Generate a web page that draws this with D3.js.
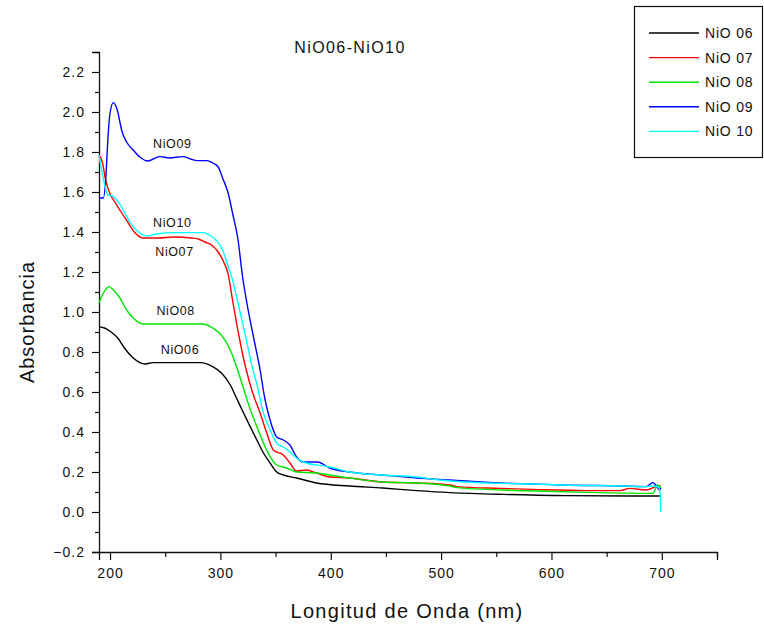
<!DOCTYPE html>
<html>
<head>
<meta charset="utf-8">
<script src="https://cdn.jsdelivr.net/npm/d3@7"></script>
<style>
  body { margin: 0; background: #fff; }
  text { font-family: "Liberation Sans", Arial, sans-serif; fill: #111; }
</style>
</head>
<body>
<script>
// series names + colours
var seriesNames = ["NiO 06", "NiO 07", "NiO 08", "NiO 09", "NiO 10"];
var seriesColors = ["#000000", "#ff0000", "#00e600", "#0000ff", "#00ffff"];

// [wavelength nm, absorbance]
var nio06 = [[190,0.927],[195,0.92],[201,0.90],[207,0.87],[213,0.82],[221,0.77],[232,0.74],[239,0.747],[257,0.747],[282,0.747],[293,0.727],[301,0.695],[309,0.635],[315,0.565],[321,0.495],[327,0.427],[333,0.36],[339,0.295],[345,0.245],[351,0.20],[357,0.185],[369,0.17],[387,0.145],[417,0.13],[447,0.12],[478,0.107],[508,0.097],[556,0.088],[614,0.082],[695,0.08],[699,0.08]];
var nio07 = [[190,1.785],[193,1.75],[196,1.66],[200,1.59],[205,1.545],[210,1.50],[216,1.45],[222,1.40],[230,1.37],[244,1.37],[258,1.375],[274,1.37],[280,1.365],[286,1.35],[292,1.335],[298,1.30],[303,1.25],[307,1.19],[311,1.06],[317,0.875],[323,0.72],[329,0.60],[336,0.495],[342,0.395],[348,0.31],[357,0.285],[363,0.245],[369,0.205],[378,0.21],[387,0.195],[399,0.175],[417,0.17],[447,0.15],[478,0.145],[508,0.135],[514,0.127],[553,0.118],[583,0.113],[632,0.107],[662,0.107],[671,0.118],[686,0.11],[695,0.127],[699,0.13]];
var nio08 = [[190,1.045],[194,1.095],[199,1.127],[203,1.11],[209,1.07],[215,1.01],[221,0.97],[230,0.94],[248,0.94],[266,0.94],[284,0.94],[293,0.92],[302,0.877],[309,0.81],[315,0.72],[320,0.635],[326,0.53],[333,0.427],[339,0.345],[345,0.277],[351,0.235],[360,0.22],[369,0.20],[387,0.195],[399,0.185],[417,0.17],[447,0.15],[478,0.145],[508,0.13],[514,0.122],[556,0.11],[587,0.105],[632,0.098],[692,0.093],[696,0.135],[699,0.12]];
var nio09 = [[190,1.57],[194,1.57],[196.5,1.70],[198,1.86],[200,1.995],[203,2.047],[206,2.02],[211,1.90],[215,1.85],[221,1.81],[227,1.775],[234,1.755],[245,1.777],[254,1.77],[266,1.777],[273,1.765],[279,1.757],[288,1.757],[293,1.745],[298,1.725],[302,1.67],[307,1.595],[311,1.495],[316,1.36],[320,1.18],[324,1.045],[330,0.875],[336,0.71],[340,0.575],[345,0.46],[351,0.375],[357,0.36],[363,0.335],[369,0.275],[375,0.25],[388,0.25],[399,0.22],[417,0.20],[447,0.185],[478,0.17],[508,0.16],[553,0.145],[583,0.14],[610,0.135],[665,0.13],[686,0.127],[692,0.147],[695,0.13],[698,0.11],[699,0.12]];
var nio10 = [[190,1.785],[192,1.72],[195,1.64],[198,1.585],[202,1.58],[206,1.56],[211,1.52],[215,1.477],[221,1.427],[227,1.395],[234,1.38],[242,1.39],[257,1.397],[272,1.397],[284,1.397],[290,1.385],[296,1.36],[302,1.31],[307,1.227],[310,1.18],[316,1.045],[323,0.875],[329,0.72],[333,0.64],[339,0.495],[345,0.41],[351,0.345],[357,0.325],[363,0.30],[369,0.27],[375,0.25],[399,0.225],[417,0.20],[447,0.185],[478,0.175],[499,0.16],[553,0.143],[583,0.14],[610,0.135],[665,0.13],[686,0.127],[692,0.13],[697,0.125],[698.5,0.09],[699,0.0]];
var allSeries = [nio06, nio07, nio08, nio09, nio10];

// in-plot labels: text, wavelength, absorbance (baseline)
var curveLabels = [["NiO09",239,1.82],["NiO10",239,1.425],["NiO07",241,1.28],["NiO08",242,0.985],["NiO06",246,0.79]];

// axis ticks
var xTicks = [200, 300, 400, 500, 600, 700];
var xMinor = [250, 350, 450, 550, 650, 750];
var yTicks = [-0.2, 0.0, 0.2, 0.4, 0.6, 0.8, 1.0, 1.2, 1.4, 1.6, 1.8, 2.0, 2.2];
var yMinor = [-0.1, 0.1, 0.3, 0.5, 0.7, 0.9, 1.1, 1.3, 1.5, 1.7, 1.9, 2.1, 2.3];

//Step 1: svg + plot area
var svgWidth = 764;
var svgHeight = 628;
var plot = { left: 99, right: 717, top: 52, bottom: 552 };

var svg = d3.select("body").append("svg")
  .attr("width", svgWidth)
  .attr("height", svgHeight);

//Step 2: scales
var xScale = d3.scaleLinear().domain([190, 750]).range([plot.left, plot.right]);
var yScale = d3.scaleLinear().domain([-0.2, 2.3]).range([plot.bottom, plot.top]);

//Step 3: axes (left + bottom only, ticks outward)
svg.append("g")
  .attr("transform", "translate(0," + plot.bottom + ")")
  .call(d3.axisBottom(xScale).tickValues(xTicks).tickSize(8).tickPadding(8).tickFormat(d3.format("d")));
svg.append("g")
  .attr("transform", "translate(0," + plot.bottom + ")")
  .call(d3.axisBottom(xScale).tickValues(xMinor).tickSize(5).tickFormat(""))
  .select(".domain").remove();

svg.append("g")
  .attr("transform", "translate(" + plot.left + ",0)")
  .call(d3.axisLeft(yScale).tickValues(yTicks).tickSize(7).tickPadding(7).tickFormat(d3.format(".1f")));
svg.append("g")
  .attr("transform", "translate(" + plot.left + ",0)")
  .call(d3.axisLeft(yScale).tickValues(yMinor).tickSize(4).tickFormat(""))
  .select(".domain").remove();

svg.selectAll(".domain").attr("stroke", "#111").attr("stroke-width", 1.3);
svg.selectAll(".tick line").attr("stroke", "#111").attr("stroke-width", 1.2);
svg.selectAll(".tick text")
  .style("font-family", "'Liberation Sans', Arial, sans-serif")
  .style("font-size", "14px")
  .style("letter-spacing", "1px")
  .attr("fill", "#111");

//Step 4: curves
var line = d3.line()
  .curve(d3.curveMonotoneX)
  .x(function(d) { return xScale(d[0]); })
  .y(function(d) { return yScale(d[1]); });

svg.selectAll(".curve")
  .data(allSeries)
  .enter()
  .append("path")
  .attr("class", "curve")
  .attr("d", line)
  .attr("fill", "none")
  .attr("stroke", function(d, i) { return seriesColors[i]; })
  .attr("stroke-width", 1.4);

//Step 5: labels on curves
svg.selectAll(".clabel")
  .data(curveLabels)
  .enter()
  .append("text")
  .attr("class", "clabel")
  .attr("x", function(d) { return xScale(d[1]); })
  .attr("y", function(d) { return yScale(d[2]); })
  .style("font-size", "12.5px")
  .style("letter-spacing", "0.6px")
  .text(function(d) { return d[0]; });

//Step 6: titles
svg.append("text")
  .attr("x", 350)
  .attr("y", 53)
  .attr("text-anchor", "middle")
  .style("font-size", "16px")
  .style("letter-spacing", "1.4px")
  .text("NiO06-NiO10");

svg.append("text")
  .attr("transform", "translate(34," + ((plot.top + plot.bottom) / 2 + 20) + ") rotate(-90)")
  .attr("text-anchor", "middle")
  .style("font-size", "20px")
  .style("letter-spacing", "1px")
  .text("Absorbancia");

svg.append("text")
  .attr("x", 407)
  .attr("y", 618)
  .attr("text-anchor", "middle")
  .style("font-size", "20px")
  .style("letter-spacing", "1.3px")
  .text("Longitud de Onda (nm)");

//Step 7: legend
var legend = svg.append("g");
legend.append("rect")
  .attr("x", 634.5)
  .attr("y", 6.5)
  .attr("width", 128)
  .attr("height", 151)
  .attr("fill", "#fff")
  .attr("stroke", "#111")
  .attr("stroke-width", 1.2);

var items = legend.selectAll(".item")
  .data(seriesNames)
  .enter()
  .append("g")
  .attr("transform", function(d, i) { return "translate(0," + (33 + i * 24.6) + ")"; });
items.append("line")
  .attr("x1", 649).attr("x2", 699)
  .attr("y1", 0).attr("y2", 0)
  .attr("stroke", function(d, i) { return seriesColors[i]; })
  .attr("stroke-width", 1.4);
items.append("text")
  .attr("x", 705)
  .attr("y", 5)
  .style("font-size", "14px")
  .style("letter-spacing", "0.8px")
  .text(function(d) { return d; });
</script>
</body>
</html>
